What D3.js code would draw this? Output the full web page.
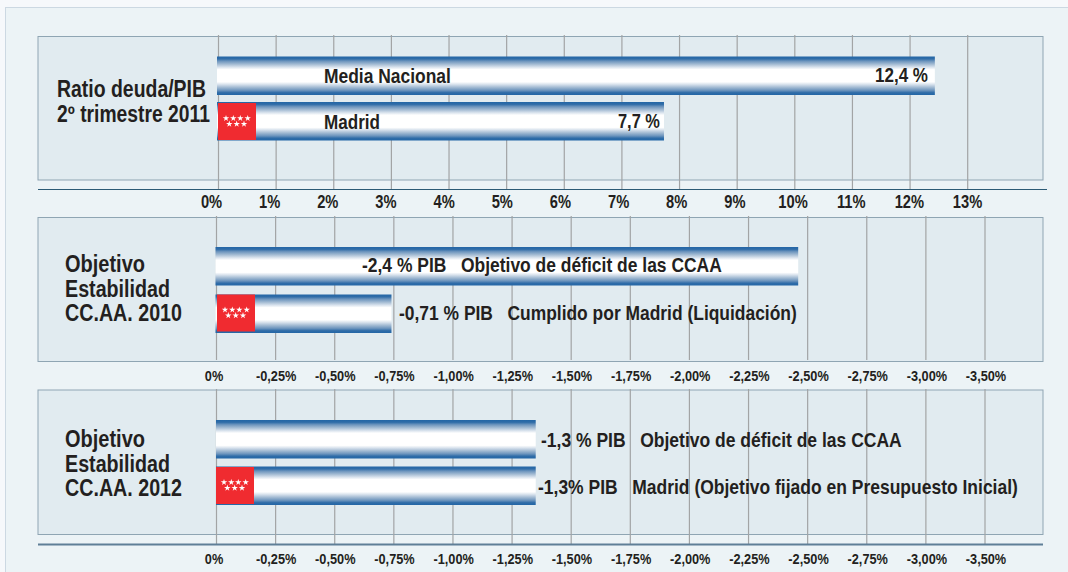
<!DOCTYPE html>
<html>
<head>
<meta charset="utf-8">
<script src="https://cdn.jsdelivr.net/npm/d3@7"></script>
<style>
    html, body { margin: 0; padding: 0; background: #f6f8fb; overflow: hidden; }
    text { font-family: "Liberation Sans", sans-serif; font-weight: bold; fill: #231f20; }
</style>
</head>
<body>
<svg id="vis"></svg>
<script>
const WIDTH = 1068;
const HEIGHT = 572;

const ratioTicks = ["0%", "1%", "2%", "3%", "4%", "5%", "6%", "7%", "8%", "9%", "10%", "11%", "12%", "13%"];
const ratioValues = [12.43, 7.73];
const ratioTexts = ["12,4 %", "7,7 %"];
const ratioNames = ["Media Nacional", "Madrid"];

const deficitTicks = ["0%", "-0,25%", "-0,50%", "-0,75%", "-1,00%", "-1,25%", "-1,50%", "-1,75%", "-2,00%", "-2,25%", "-2,50%", "-2,75%", "-3,00%", "-3,50%"];
const values2010 = [-2.46, -0.74];
const texts2010 = ["-2,4 % PIB   Objetivo de déficit de las CCAA", "-0,71 % PIB   Cumplido por Madrid (Liquidación)"];
const values2012 = [-1.35, -1.35];
const texts2012 = ["-1,3 % PIB   Objetivo de déficit de las CCAA", "-1,3% PIB   Madrid (Objetivo fijado en Presupuesto Inicial)"];

const titleRatio = ["Ratio deuda/PIB", "2º trimestre 2011"];
const title2010 = ["Objetivo", "Estabilidad", "CC.AA. 2010"];
const title2012 = ["Objetivo", "Estabilidad", "CC.AA. 2012"];

const BAR_HEIGHT = 38.5;
const FLAG_W = 38;
const FLAG_H = 37;

const svg = d3.select("#vis")
    .attr("width", WIDTH)
    .attr("height", HEIGHT)
    .style("display", "block");

function main() {
    drawBackground();

    const ratioX = d3.scaleLinear().domain([0, 13]).range([218.5, 967.7]);
    drawPanel({
        top: 36.5, bottom: 180, gridTop: 35, gridBottom: 189,
        ticks: ratioTicks, x: ratioX,
        labelRange: [211, 967], labelY: 208, labelSize: 17.5, labelSquash: 0.84,
        axisY: 189.5, axisRight: 1047, axisWidth: 1, axisColor: "#2c5a75",
        values: ratioValues, barTops: [56.5, 102], barLeft: 1.5, flagX: 218, flagY: 103,
        title: titleRatio, titleX: 57, titleY: [97, 122], titleWidth: [149, 153]
    });
    // names inside the bars and the values at their right end
    drawLabels(ratioNames, [324, 324], [83, 129], [127, 56], 20);
    drawLabels(ratioTexts, [875, 618], [82, 128], [53, 42], 20);

    const x2010 = d3.scaleLinear().domain([0, -3.25]).range([216.5, 985]);
    drawPanel({
        top: 217.5, bottom: 361.5, gridTop: 216, gridBottom: 360,
        ticks: deficitTicks, x: x2010,
        labelRange: [216.5, 985.5], labelY: 381, labelSize: 15, labelSquash: 0.85,
        values: values2010, barTops: [247, 294.5], barLeft: 1, flagX: 217, flagY: 294.5,
        title: title2010, titleX: 65, titleY: [272, 296.5, 320.5], titleWidth: [80, 105, 117]
    });
    drawLabels(texts2010, [362, 399], [272, 320], [360, 398], 19.5);

    const x2012 = d3.scaleLinear().domain([0, -3.25]).range([216.5, 985]);
    drawPanel({
        top: 390, bottom: 534.5, gridTop: 389, gridBottom: 544,
        ticks: deficitTicks, x: x2012,
        labelRange: [216.5, 985.5], labelY: 564, labelSize: 15, labelSquash: 0.85,
        axisY: 544.5, axisRight: 1043, axisWidth: 2, axisColor: "#5f7f97",
        values: values2012, barTops: [420, 466.5], barLeft: 0.5, flagX: 216, flagY: 467,
        title: title2012, titleX: 65, titleY: [447, 472, 496], titleWidth: [80, 105, 117]
    });
    drawLabels(texts2012, [541, 538], [447, 494], [361, 480], 19.5);
}

function drawBackground() {
    svg.append("rect")
        .attr("x", 5.5)
        .attr("y", 7.5)
        .attr("width", WIDTH)
        .attr("height", HEIGHT)
        .attr("fill", "#ecf3f6")
        .attr("stroke", "#ccd8e2");

    // the bars are a blue / white / blue band with a stepped look
    const grad = svg.append("defs").append("linearGradient")
        .attr("id", "barFill")
        .attr("x1", 0).attr("x2", 0)
        .attr("y1", 0).attr("y2", 1);
    const stops = [
        [0, "#2366a6"], [0.06, "#2f6ca8"], [0.12, "#6c94bd"], [0.2, "#a3bbd3"],
        [0.28, "#dbe4ee"], [0.34, "#ffffff"], [0.66, "#ffffff"], [0.72, "#dbe4ee"],
        [0.8, "#a3bbd3"], [0.88, "#6c94bd"], [0.94, "#2f6ca8"], [1, "#2366a6"]
    ];
    grad.selectAll("stop").data(stops).join("stop")
        .attr("offset", d => d[0])
        .attr("stop-color", d => d[1]);
}

function drawPanel(p) {
    const g = svg.append("g");

    g.append("rect")
        .attr("x", 38)
        .attr("y", p.top)
        .attr("width", 1005)
        .attr("height", p.bottom - p.top)
        .attr("fill", "#e1ebf0")
        .attr("stroke", "#8fa5b3");

    // gridlines, one per tick label
    const gridX = d3.scalePoint().domain(p.ticks).range(p.x.range());
    const grid = g.append("g")
        .attr("transform", "translate(-0.5," + p.gridBottom + ")")
        .call(d3.axisBottom(gridX).tickSize(p.gridTop - p.gridBottom).tickFormat(""));
    grid.select(".domain").remove();
    grid.selectAll("line").attr("stroke", "#a2a4a5").attr("stroke-width", 1.2);

    if (p.axisY) {
        g.append("line")
            .attr("x1", 38)
            .attr("x2", p.axisRight)
            .attr("y1", p.axisY)
            .attr("y2", p.axisY)
            .attr("stroke", p.axisColor)
            .attr("stroke-width", p.axisWidth);
    }

    const labelX = d3.scalePoint().domain(p.ticks).range(p.labelRange);
    const labels = g.append("g")
        .attr("transform", "translate(0," + p.labelY + ")")
        .call(d3.axisBottom(labelX).tickSize(0).tickPadding(0));
    labels.select(".domain").remove();
    labels.selectAll("text")
        .attr("y", 0)
        .attr("dy", 0)
        .attr("font-size", p.labelSize)
        .attr("fill", "#231f20")
        .attr("dx", d => d === "0%" && p.labelSize < 16 ? -3 : 0)
        .attr("lengthAdjust", "spacingAndGlyphs")
        .attr("textLength", function() { return this.getComputedTextLength() * p.labelSquash; });

    g.selectAll(".bars").data(p.values).join("rect")
        .attr("class", "bars")
        .attr("x", p.x(0) - p.barLeft)
        .attr("y", (d, i) => p.barTops[i])
        .attr("width", d => Math.abs(p.x(d) - p.x(0)) + p.barLeft)
        .attr("height", BAR_HEIGHT)
        .attr("fill", "url(#barFill)");

    drawFlag(g, p.flagX, p.flagY);

    p.title.forEach((line, i) => {
        g.append("text")
            .attr("x", p.titleX)
            .attr("y", p.titleY[i])
            .attr("font-size", 23)
            .attr("textLength", p.titleWidth[i])
            .attr("lengthAdjust", "spacingAndGlyphs")
            .text(line);
    });
}

function drawFlag(g, x, y) {
    g.append("rect")
        .attr("x", x)
        .attr("y", y)
        .attr("width", FLAG_W)
        .attr("height", FLAG_H)
        .attr("fill", "#f02b30");
    const star = d3.symbol().type(d3.symbolStar).size(13);
    const stars = [[8, 15.3], [15.3, 15.3], [22.3, 15.3], [29.7, 15.3], [11.3, 21], [18.7, 21], [26, 21]];
    g.selectAll(".star").data(stars).join("path")
        .attr("class", "star")
        .attr("d", star)
        .attr("fill", "#ffffff")
        .attr("transform", d => "translate(" + (x + d[0]) + "," + (y + d[1]) + ")");
}

function drawLabels(texts, xs, ys, widths, size) {
    texts.forEach((t, i) => {
        const label = svg.append("text")
            .attr("font-size", size)
            .style("white-space", "pre")
            .text(t);
        // squeeze to the printed width, there is no narrow bold font here
        const squash = widths[i] / label.node().getComputedTextLength();
        label.attr("transform", "translate(" + xs[i] + "," + ys[i] + ") scale(" + squash + ",1)");
    });
}

main()
</script>
</body>
</html>
